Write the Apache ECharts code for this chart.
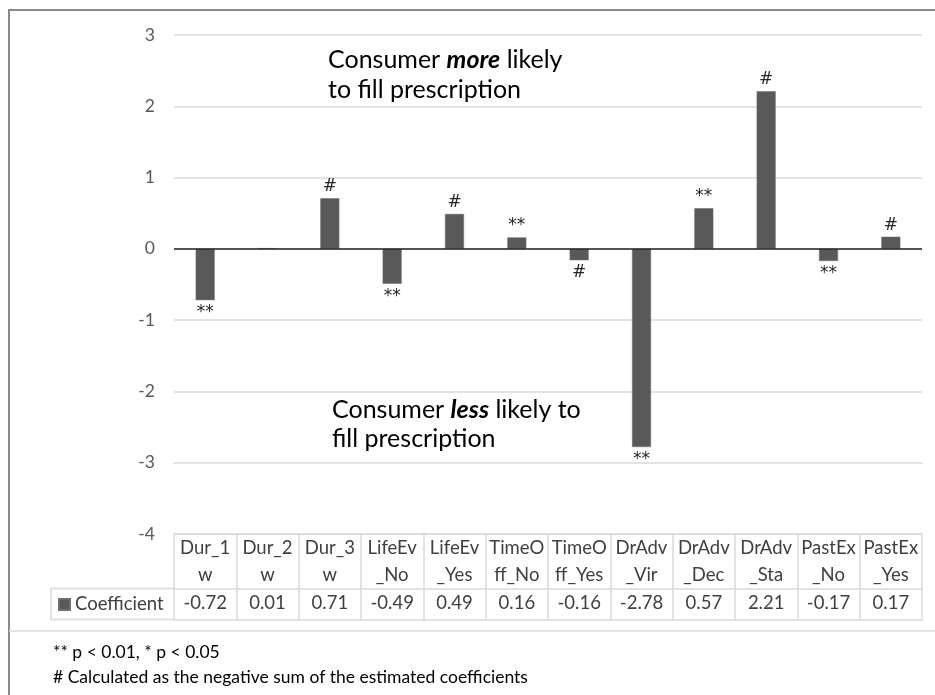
<!DOCTYPE html>
<html>
<head>
<meta charset="utf-8">
<script src="https://cdn.jsdelivr.net/npm/echarts@6/dist/echarts.min.js"></script>
<style>
  html, body { margin: 0; padding: 0; background: #ffffff; }
  #chart { width: 935px; height: 695px; }
</style>
</head>
<body>
<div id="chart"></div>
<script>
// Estimated coefficients for each attribute level
const categories = ['Dur_1w', 'Dur_2w', 'Dur_3w', 'LifeEv_No', 'LifeEv_Yes', 'TimeOff_No',
                    'TimeOff_Yes', 'DrAdv_Vir', 'DrAdv_Dec', 'DrAdv_Sta', 'PastEx_No', 'PastEx_Yes'];
// Wrapped header text used in the data table under the plot
const headerLabels = ['Dur_1\nw', 'Dur_2\nw', 'Dur_3\nw', 'LifeEv\n_No', 'LifeEv\n_Yes', 'TimeO\nff_No',
                      'TimeO\nff_Yes', 'DrAdv\n_Vir', 'DrAdv\n_Dec', 'DrAdv\n_Sta', 'PastEx\n_No', 'PastEx\n_Yes'];
const coefficients = [-0.72, 0.01, 0.71, -0.49, 0.49, 0.16, -0.16, -2.78, 0.57, 2.21, -0.17, 0.17];
// Significance markers: ** p < 0.01, # derived as negative sum
const marks = ['**', '', '#', '**', '#', '**', '#', '**', '**', '#', '**', '#'];
const yTicks = { min: -4, max: 3, interval: 1 };

const FONT = 'Lato, "Liberation Sans", sans-serif';
const TEXT = '#404040';
const RULE = '#d9d9d9';

const barData = coefficients.map((v, i) => ({
  value: v,
  label: {
    show: marks[i] !== '',
    position: v >= 0 ? 'top' : 'bottom',
    distance: v >= 0 ? 3 : 4,
    formatter: marks[i]
  }
}));

const chart = echarts.init(document.getElementById('chart'), null, { renderer: 'canvas' });

chart.setOption({
  animation: false,
  backgroundColor: '#ffffff',
  textStyle: { fontFamily: FONT },
  grid: { left: 174, right: 13, top: 35, bottom: 161 },
  legend: {
    data: ['Coefficient'],
    left: 58,
    top: 595,
    padding: 0,
    icon: 'rect',
    itemWidth: 11,
    itemHeight: 11,
    itemGap: 4,
    textStyle: { fontFamily: FONT, fontSize: 18.5, color: TEXT, padding: [0, 0, 0, 0] }
  },
  xAxis: [
    {
      // header row of the table
      type: 'category',
      data: headerLabels,
      position: 'bottom',
      boundaryGap: true,
      axisLine: { show: true, onZero: false, lineStyle: { color: RULE, width: 1.5 } },
      axisTick: { show: true, length: 55, lineStyle: { color: RULE, width: 1.5 } },
      axisLabel: {
        interval: 0, margin: 1, fontSize: 18.5, lineHeight: 27, color: TEXT, fontFamily: FONT
      },
      splitLine: { show: false }
    },
    {
      // value row of the table
      type: 'category',
      data: coefficients.map(v => v.toFixed(2)),
      position: 'bottom',
      offset: 55,
      boundaryGap: true,
      axisLine: { show: true, onZero: false, lineStyle: { color: RULE, width: 1.5 } },
      axisTick: { show: true, length: 31, lineStyle: { color: RULE, width: 1.5 } },
      axisLabel: { interval: 0, margin: 5, fontSize: 18.5, color: TEXT, fontFamily: FONT },
      splitLine: { show: false }
    },
    {
      // closing rule of the table
      type: 'category',
      data: categories,
      position: 'bottom',
      offset: 86,
      axisLine: { show: true, onZero: false, lineStyle: { color: RULE, width: 1.5 } },
      axisTick: { show: false },
      axisLabel: { show: false },
      splitLine: { show: false }
    }
  ],
  yAxis: {
    type: 'value',
    min: yTicks.min,
    max: yTicks.max,
    interval: yTicks.interval,
    axisLine: { show: false },
    axisTick: { show: false },
    axisLabel: { margin: 19, fontSize: 17.5, color: '#595959', fontFamily: FONT },
    splitLine: { lineStyle: { color: RULE, width: 1.5 } }
  },
  series: [
    {
      name: 'Coefficient',
      type: 'bar',
      xAxisIndex: 0,
      data: barData,
      barWidth: 19,
      itemStyle: { color: '#595959', borderColor: '#6e6e6e', borderWidth: 0.5 },
      label: { fontSize: 17, color: '#262626', fontFamily: 'DejaVu Sans, sans-serif' },
      markLine: {
        silent: true,
        symbol: 'none',
        label: { show: false },
        lineStyle: { color: '#262626', width: 1.5, type: 'solid' },
        data: [{ yAxis: 0 }]
      }
    }
  ],
  graphic: [
    // figure frame
    { type: 'polyline', shape: { points: [[9, 695], [9, 10], [935, 10]] },
      style: { stroke: '#8a8a8a', lineWidth: 2, fill: null } },
    { type: 'line', shape: { x1: 9, y1: 631, x2: 935, y2: 631 },
      style: { stroke: RULE, lineWidth: 1.5 } },
    // legend cell of the data table
    { type: 'polyline', shape: { points: [[174, 588.5], [51, 588.5], [51, 619.5], [174, 619.5]] },
      style: { stroke: RULE, lineWidth: 1.5, fill: null } },
    // annotations
    {
      type: 'text', left: 328, top: 47,
      style: {
        text: '{a|Consumer }{b|more}{a| likely}\n{a|to fill prescription}',
        rich: {
          a: { fontFamily: FONT, fontSize: 25, lineHeight: 30, fill: '#000000', color: '#000000' },
          b: { fontFamily: FONT, fontSize: 25, lineHeight: 30, fontWeight: 'bold', fontStyle: 'italic', fill: '#000000', color: '#000000' }
        }
      }
    },
    {
      type: 'text', left: 332, top: 397,
      style: {
        text: '{a|Consumer }{b|less}{a| likely to}\n{a|fill prescription}',
        rich: {
          a: { fontFamily: FONT, fontSize: 25, lineHeight: 29, fill: '#000000', color: '#000000' },
          b: { fontFamily: FONT, fontSize: 25, lineHeight: 29, fontWeight: 'bold', fontStyle: 'italic', fill: '#000000', color: '#000000' }
        }
      }
    },
    // footnotes
    {
      type: 'text', left: 53, top: 640,
      style: {
        text: '** p < 0.01, * p < 0.05\n# Calculated as the negative sum of the estimated coefficients',
        font: '17.5px ' + FONT, fill: '#000000', lineHeight: 25
      }
    }
  ]
});
</script>
</body>
</html>
